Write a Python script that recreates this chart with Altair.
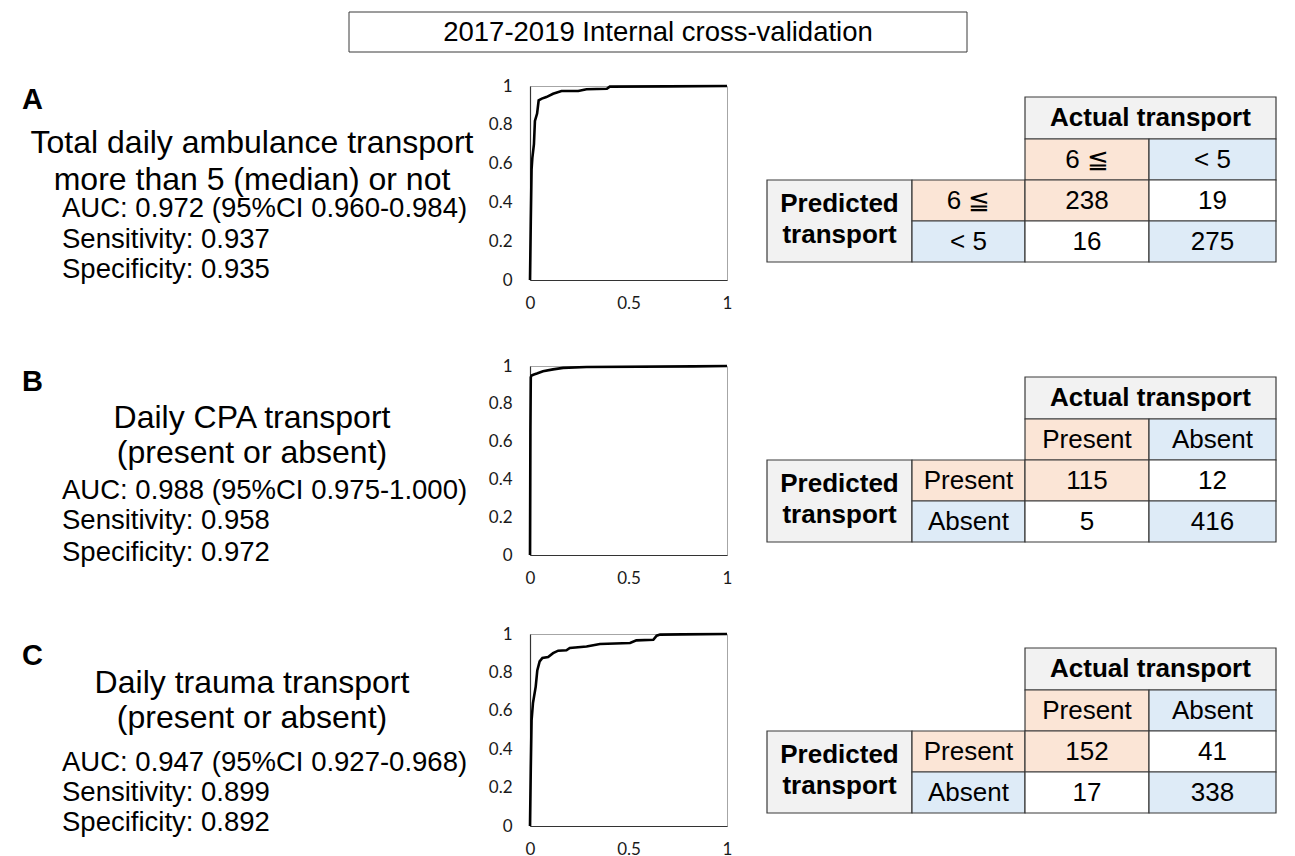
import altair as alt
import pandas as pd

# ---------------- data ----------------
TITLE = "2017-2019 Internal cross-validation"
PANEL_LETTERS = ["A", "B", "C"]
HEADINGS = [
    ["Total daily ambulance transport", "more than 5 (median) or not"],
    ["Daily CPA transport", "(present or absent)"],
    ["Daily trauma transport", "(present or absent)"],
]
AUC_TEXT = [
    "AUC: 0.972 (95%CI 0.960-0.984)",
    "AUC: 0.988 (95%CI 0.975-1.000)",
    "AUC: 0.947 (95%CI 0.927-0.968)",
]
SENSITIVITY = ["0.937", "0.958", "0.899"]
SPECIFICITY = ["0.935", "0.972", "0.892"]

ROC_A_FPR = [0, 0.004, 0.008, 0.012, 0.02, 0.025, 0.036, 0.044, 0.06, 0.083, 0.117, 0.16, 0.245, 0.287, 0.39, 0.405, 0.7, 1.0]
ROC_A_TPR = [0, 0.30, 0.57, 0.63, 0.70, 0.82, 0.858, 0.926, 0.935, 0.943, 0.96, 0.974, 0.974, 0.983, 0.986, 0.997, 0.998, 1.0]
ROC_B_FPR = [0, 0.002, 0.004, 0.008, 0.02, 0.035, 0.066, 0.117, 0.168, 0.287, 0.83, 1.0]
ROC_B_TPR = [0, 0.65, 0.94, 0.95, 0.955, 0.96, 0.972, 0.982, 0.99, 0.995, 0.998, 1.0]
ROC_C_FPR = [0, 0.004, 0.008, 0.015, 0.029, 0.037, 0.049, 0.063, 0.092, 0.117, 0.143, 0.185, 0.202, 0.287, 0.355, 0.508, 0.54, 0.626, 0.643, 0.66, 0.77, 1.0]
ROC_C_TPR = [0, 0.3, 0.55, 0.64, 0.726, 0.81, 0.857, 0.875, 0.88, 0.9, 0.913, 0.915, 0.927, 0.935, 0.948, 0.953, 0.967, 0.97, 0.991, 0.997, 0.998, 1.0]
ROC_FPR = [ROC_A_FPR, ROC_B_FPR, ROC_C_FPR]
ROC_TPR = [ROC_A_TPR, ROC_B_TPR, ROC_C_TPR]

HEADER = "Actual transport"
ROW_HEADER = "Predicted\ntransport"
CLASS_LABELS = [["6 \u2266", "< 5"], ["Present", "Absent"], ["Present", "Absent"]]
COUNTS = [
    [[238, 19], [16, 275]],
    [[115, 12], [5, 416]],
    [[152, 41], [17, 338]],
]

Y_TICKS = [0, 0.2, 0.4, 0.6, 0.8, 1]
X_TICKS = [0, 0.5, 1]

# ---------------- layout / style ----------------
FONT = "Liberation Sans"
TEXT_W, ROC_W, TABLE_W = 522, 197, 560
TITLE_H = 78
ROW_H = [194, 189, 192]
GAPS = [86, 79, 0]
TEXT_Y = [[14, 57, 94, 123, 154, 184], [16, 52, 87, 125, 155, 187], [22, 49, 84, 129, 159, 189]]
LETTER_X, HEAD_X, INFO_X = 14, 244, 54
TABLE_TOP = [11, 11, 14]
COL_EDGES = [40, 185, 298, 422, 549]
ROW_EDGES = [0, 42, 83, 124, 165]
MULTILINE_SHIFT = -17
GREY, ORANGE, BLUE, WHITE = "#f2f2f2", "#fbe5d6", "#deebf7", "#ffffff"
BORDER = "#3a3a3a"


def title_chart():
    box = alt.Chart(pd.DataFrame({"t": [TITLE]})).mark_rect(
        fill="white", stroke=BORDER, strokeWidth=1
    ).encode(x=alt.value(341), x2=alt.value(959), y=alt.value(4), y2=alt.value(44))
    txt = alt.Chart(pd.DataFrame({"t": [TITLE]})).mark_text(
        font=FONT, fontSize=27.5, align="center", baseline="middle", color="black"
    ).encode(text="t:N", x=alt.value(650), y=alt.value(25))
    return alt.layer(box, txt).properties(width=TEXT_W, height=TITLE_H)


def text_panel(i):
    ys = TEXT_Y[i]
    lines = [
        (PANEL_LETTERS[i], LETTER_X, ys[0], "left", 29, "bold"),
        (HEADINGS[i][0], HEAD_X, ys[1], "center", 32, "normal"),
        (HEADINGS[i][1], HEAD_X, ys[2], "center", 32, "normal"),
        (AUC_TEXT[i], INFO_X, ys[3], "left", 27.5, "normal"),
        ("Sensitivity: " + SENSITIVITY[i], INFO_X, ys[4], "left", 27.5, "normal"),
        ("Specificity: " + SPECIFICITY[i], INFO_X, ys[5], "left", 27.5, "normal"),
    ]
    layers = []
    for t, x, y, al, fs, fw in lines:
        layers.append(
            alt.Chart(pd.DataFrame({"t": [t]})).mark_text(
                font=FONT, fontSize=fs, fontWeight=fw, align=al, baseline="middle", color="black"
            ).encode(text="t:N", x=alt.value(x), y=alt.value(y))
        )
    # panel height includes the gap to the next row, so grid rows stack as in the figure
    return alt.layer(*layers).properties(width=TEXT_W, height=ROW_H[i] + GAPS[i])


def roc_chart(i):
    df = pd.DataFrame({"fpr": ROC_FPR[i], "tpr": ROC_TPR[i], "k": list(range(len(ROC_FPR[i])))})
    ax = dict(title=None, grid=False, ticks=False, tickSize=0, labelFont="Lato", labelFontSize=17,
              labelColor="#1a1a1a", domainColor="#333333", domainWidth=1.2, labelFlush=False,
              format="~g")
    return alt.Chart(df).mark_line(color="black", strokeWidth=2.6).encode(
        x=alt.X("fpr:Q", scale=alt.Scale(domain=[0, 1], nice=False),
                axis=alt.Axis(values=X_TICKS, labelPadding=15, **ax)),
        y=alt.Y("tpr:Q", scale=alt.Scale(domain=[0, 1], nice=False),
                axis=alt.Axis(values=Y_TICKS, labelPadding=18, **ax)),
        order=alt.Order("k:Q"),
    ).properties(width=ROC_W, height=ROW_H[i],
                 view=alt.ViewBackground(stroke="#a6a6a6", strokeWidth=1))


def table_chart(i):
    top = TABLE_TOP[i]
    labs = CLASS_LABELS[i]
    cnt = COUNTS[i]
    cells = []

    def add(c0, c1, r0, r1, fill, label, bold):
        yc = top + (ROW_EDGES[r0] + ROW_EDGES[r1]) / 2
        if "\n" in label:
            yc += MULTILINE_SHIFT
        cells.append(dict(x0=COL_EDGES[c0], x1=COL_EDGES[c1],
                          y0=top + ROW_EDGES[r0], y1=top + ROW_EDGES[r1],
                          xc=(COL_EDGES[c0] + COL_EDGES[c1]) / 2, yc=yc,
                          fill=fill, label=label, bold=bold))

    add(2, 4, 0, 1, GREY, HEADER, True)
    add(2, 3, 1, 2, ORANGE, labs[0], False)
    add(3, 4, 1, 2, BLUE, labs[1], False)
    add(0, 1, 2, 4, GREY, ROW_HEADER, True)
    add(1, 2, 2, 3, ORANGE, labs[0], False)
    add(1, 2, 3, 4, BLUE, labs[1], False)
    add(2, 3, 2, 3, ORANGE, str(cnt[0][0]), False)
    add(3, 4, 2, 3, WHITE, str(cnt[0][1]), False)
    add(2, 3, 3, 4, WHITE, str(cnt[1][0]), False)
    add(3, 4, 3, 4, BLUE, str(cnt[1][1]), False)
    df = pd.DataFrame(cells)
    h = ROW_H[i]
    xs = alt.Scale(domain=[0, TABLE_W], range=[0, TABLE_W], nice=False, zero=False)
    ys = alt.Scale(domain=[0, h], range=[0, h], nice=False, zero=False)
    base = alt.Chart(df)
    rects = base.mark_rect(stroke=BORDER, strokeWidth=1.2).encode(
        x=alt.X("x0:Q", scale=xs, axis=None), x2="x1:Q",
        y=alt.Y("y0:Q", scale=ys, axis=None), y2="y1:Q",
        fill=alt.Fill("fill:N", scale=None),
    )
    reg = base.transform_filter("!datum.bold").mark_text(
        font=FONT, fontSize=26, color="black", align="center", baseline="middle"
    ).encode(x=alt.X("xc:Q", scale=xs, axis=None), y=alt.Y("yc:Q", scale=ys, axis=None), text="label:N")
    bold = base.transform_filter("datum.bold").mark_text(
        font=FONT, fontSize=26, fontWeight="bold", color="black", align="center", baseline="middle",
        lineBreak="\n", lineHeight=31
    ).encode(x=alt.X("xc:Q", scale=xs, axis=None), y=alt.Y("yc:Q", scale=ys, axis=None), text="label:N")
    return alt.layer(rects, reg, bold).properties(width=TABLE_W, height=h)


def spacer(w, h):
    return alt.Chart(pd.DataFrame({"v": [0]})).mark_rect(opacity=0).encode(
        x=alt.value(0), x2=alt.value(1), y=alt.value(0), y2=alt.value(1)
    ).properties(width=w, height=h)


cells = [title_chart(), spacer(ROC_W, 1), spacer(TABLE_W, 1)]
for i in range(3):
    cells += [text_panel(i), roc_chart(i), table_chart(i)]

chart = alt.concat(
    *cells, columns=3, spacing=0, bounds="flush", align="each"
).properties(padding=0, background="white").configure_view(strokeWidth=0)

chart.save("out.html", embed_options={"renderer": "svg", "actions": False})
